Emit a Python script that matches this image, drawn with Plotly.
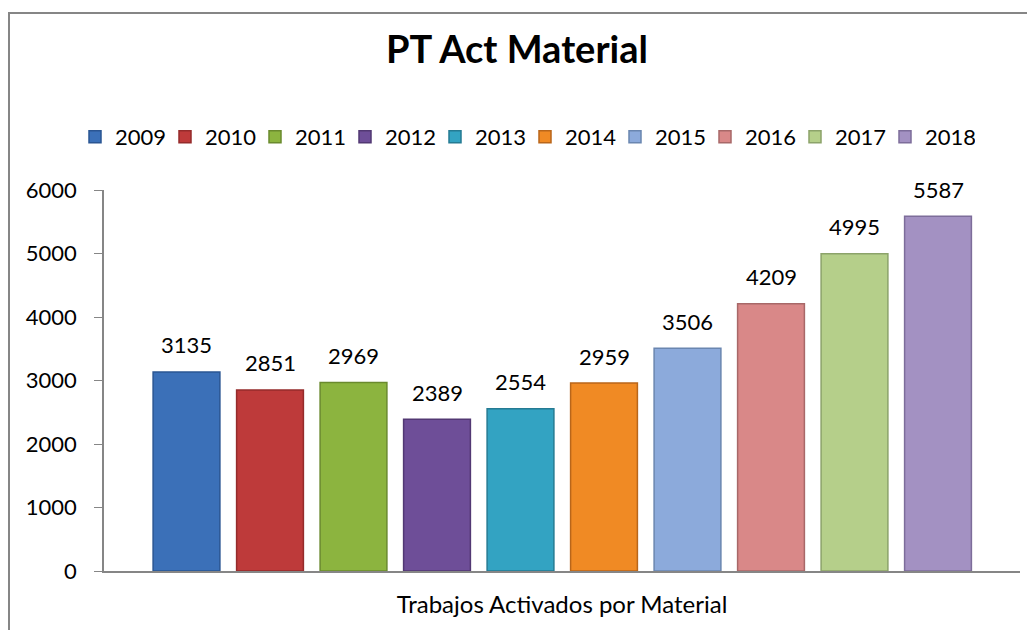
import plotly.graph_objects as go

years = ["2009", "2010", "2011", "2012", "2013", "2014", "2015", "2016", "2017", "2018"]
values = [3135, 2851, 2969, 2389, 2554, 2959, 3506, 4209, 4995, 5587]
colors = ["#3b70b8", "#be3a3a", "#8cb43f", "#6e4e98", "#33a3c2",
          "#f08a24", "#8caadb", "#d98888", "#b5cf8a", "#a391c2"]
edges = ["#2a5592", "#952b2b", "#6a8a2e", "#523873", "#257b93",
         "#b9661a", "#6a86b0", "#a86868", "#8ca36a", "#7d6d9a"]
axis_title = "Trabajos Activados por Material"
yticks = [0, 1000, 2000, 3000, 4000, 5000, 6000]

FONT = "Lato, Open Sans, sans-serif"

# page has an 8px body margin; figure drawn at (8, 8)
W, H = 1027, 622
L, R, T, B = 96, 15, 182, 59
PW, PH = W - L - R, H - T - B

fig = go.Figure()
for i, (yr, v, c, e) in enumerate(zip(years, values, colors, edges)):
    fig.add_trace(go.Bar(
        name=yr, x=[i], y=[v], width=0.8,
        marker=dict(color=c, line=dict(color=e, width=1.5)),
        hovertemplate=axis_title + "<br>" + yr + ": %{y}<extra></extra>",
    ))
    fig.add_annotation(x=i, y=v, xref="x", yref="y", text=str(v), showarrow=False,
                       yanchor="middle", yshift=27,
                       font=dict(size=22, family=FONT, color="black"))

fig.update_layout(
    width=W, height=H,
    margin=dict(l=L, r=R, t=T, b=B, autoexpand=False),
    paper_bgcolor="white", plot_bgcolor="white",
    barmode="overlay",
    font=dict(family=FONT, color="black"),
    title=dict(text="<b>PT Act Material</b>", x=509 / W, xref="container", xanchor="center",
               y=1 - 42 / H, yref="container", yanchor="middle",
               font=dict(size=38, family=FONT, color="black")),
    legend=dict(orientation="h", x=517 / W, xref="container", xanchor="center",
                y=1 - 129 / H, yref="container", yanchor="middle",
                font=dict(size=22, family=FONT, color="black"),
                itemwidth=30, entrywidth=45, entrywidthmode="pixels",
                traceorder="normal"),
)

fig.update_xaxes(
    range=[-0.988, 9.982],
    showticklabels=False, ticks="", showline=True, linecolor="#868686", linewidth=1.5,
    showgrid=False, zeroline=False,
    title=dict(text=axis_title, font=dict(size=24, family=FONT, color="black"),
               standoff=24),
)
fig.update_yaxes(
    range=[0, 6000], tickvals=yticks, ticks="outside", ticklen=8, tickcolor="#868686",
    showline=True, linecolor="#868686", linewidth=1.5, showgrid=False, zeroline=False,
    tickfont=dict(size=22, family=FONT, color="black"), ticklabelstandoff=13,
)

# chart frame
fig.add_shape(type="rect", xref="paper", yref="paper",
              x0=(1 - L) / PW, x1=(1045 - L) / PW,
              y0=(T + PH - 645) / PH, y1=(T + PH - 5) / PH,
              line=dict(color="#868686", width=2), fillcolor="rgba(0,0,0,0)", layer="below")

fig.write_html("out.html")
